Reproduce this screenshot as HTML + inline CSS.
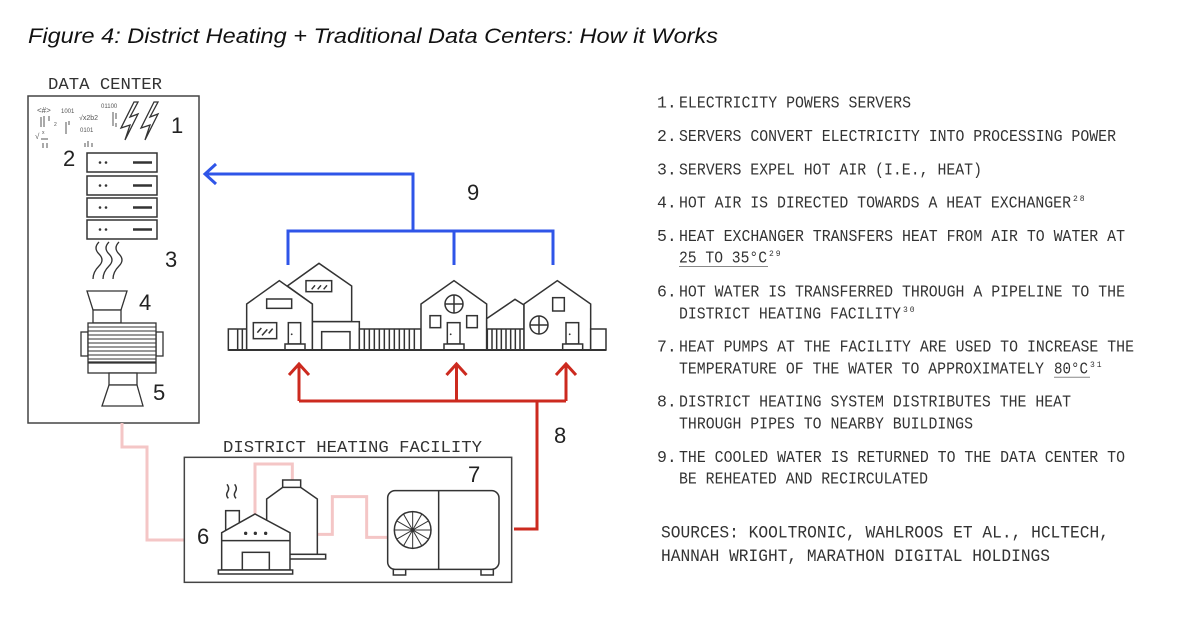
<!DOCTYPE html>
<html><head><meta charset="utf-8"><style>
html,body{margin:0;padding:0;background:#fff;}
svg{display:block;}
.m{font-family:"Liberation Mono",monospace;fill:#333;}
.n{font-family:"Liberation Sans",sans-serif;fill:#222;font-size:22px;}
</style></head><body>
<svg width="1200" height="617" viewBox="0 0 1200 617" xmlns="http://www.w3.org/2000/svg">
<rect width="1200" height="617" fill="#fff"/>
<text x="28" y="43" font-family="Liberation Sans, sans-serif" font-style="italic" font-size="21" fill="#111" textLength="690" lengthAdjust="spacingAndGlyphs">Figure 4: District Heating + Traditional Data Centers: How it Works</text>

<!-- DATA CENTER -->
<text class="m" x="48" y="89" font-size="17" textLength="114" lengthAdjust="spacingAndGlyphs">DATA CENTER</text>
<rect x="28" y="96" width="171" height="327" fill="none" stroke="#444" stroke-width="1.5"/>

<!-- symbols -->
<g fill="#555" font-family="Liberation Sans, sans-serif">
<text x="37" y="113" font-size="8">&lt;#&gt;</text>
<text x="61" y="113" font-size="6">1001</text>
<text x="101" y="108" font-size="6">01100</text>
<text x="79" y="120" font-size="7">√x2b2</text>
<text x="80" y="132" font-size="6">0101</text>
<text x="35" y="139" font-size="8">√</text>
<text x="42" y="134" font-size="5">x</text>
<text x="54" y="126" font-size="5">2</text>
</g>
<g stroke="#555" stroke-width="1" fill="none">
<path d="M41,117V127M44,116V127M49,116V121M66,122V134M69,121V125M113,112V126M116,113V119M116,123V127M43,143V148M47,143V148M85,143V147M88,141V147M92,143V147M41,139H48"/>
</g>
<!-- lightning -->
<g fill="none" stroke="#333" stroke-width="1.3" stroke-linejoin="miter">
<polygon points="134,102 121,128 130,125 125,140 138,114 130,117 138,102"/>
<polygon points="154,102 141,128 150,125 145,140 158,114 150,117 158,102"/>
</g>
<text class="n" x="171" y="133">1</text>
<text class="n" x="63" y="166">2</text>
<!-- servers -->
<g stroke="#333" stroke-width="1.5" fill="#fff">
<rect x="87" y="153" width="70" height="19"/>
<rect x="87" y="176" width="70" height="19"/>
<rect x="87" y="198" width="70" height="19"/>
<rect x="87" y="220" width="70" height="19"/>
</g>
<g fill="#333">
<circle cx="100" cy="162.5" r="1.3"/><circle cx="106" cy="162.5" r="1.3"/>
<circle cx="100" cy="185.5" r="1.3"/><circle cx="106" cy="185.5" r="1.3"/>
<circle cx="100" cy="207.5" r="1.3"/><circle cx="106" cy="207.5" r="1.3"/>
<circle cx="100" cy="229.5" r="1.3"/><circle cx="106" cy="229.5" r="1.3"/>
</g>
<g stroke="#333" stroke-width="2.6">
<path d="M133,162.5H152M133,185.5H152M133,207.5H152M133,229.5H152"/>
</g>
<!-- waves -->
<g stroke="#333" stroke-width="1.3" fill="none">
<path d="M99,242 q-6,6 0,12 q6,6 0,12 q-6,6 -6,13"/>
<path d="M109,242 q-6,6 0,12 q6,6 0,12 q-6,6 -6,13"/>
<path d="M119,242 q-6,6 0,12 q6,6 0,12 q-6,6 -6,13"/>
</g>
<text class="n" x="165" y="267">3</text>
<!-- heat exchanger -->
<g stroke="#333" stroke-width="1.3" fill="#fff">
<polygon points="87,291 127,291 121,310 93,310"/>
<rect x="93" y="310" width="28" height="13"/>
<rect x="81" y="332" width="7" height="24"/>
<rect x="156" y="332" width="7" height="24"/>
<rect x="88" y="323" width="68" height="50"/>
<rect x="109" y="373" width="28" height="12"/>
<polygon points="109,385 137,385 143,406 102,406"/>
</g>
<g stroke="#333" stroke-width="1">
<path d="M88,327H156M88,331H156M88,335H156M88,339H156M88,343H156M88,347H156M88,351H156M88,355H156M88,359H156"/>
</g>
<path d="M88,362.5H156" stroke="#333" stroke-width="2.2"/>
<text class="n" x="139" y="310">4</text>
<text class="n" x="153" y="400">5</text>

<!-- pink pipe from data center -->
<path d="M122,423V447H147V540H184" fill="none" stroke="#f4c6c6" stroke-width="3"/>

<!-- blue return lines -->
<g stroke="#2f55e8" stroke-width="3" fill="none">
<path d="M206,174H413V231"/>
<path d="M288,265V231H553V265"/>
<path d="M454,231V265"/>
<path d="M216,164L205,174L216,184"/>
</g>
<text class="n" x="467" y="200">9</text>

<!-- houses -->
<g transform="translate(200,150) scale(0.33333)" stroke="#333" stroke-width="4.5" fill="#fff">
<rect x="85" y="537" width="55" height="63"/>
<path d="M113,537V600M127,537V600" fill="none"/>
<polygon points="262,408 357,340 455,408 455,515 337,515 337,462"/>
<rect x="318" y="392" width="77" height="33"/>
<path d="M335,418l10,-12M353,418l10,-12M371,418l10,-12" fill="none"/>
<rect x="337" y="515" width="141" height="85"/>
<rect x="365" y="545" width="85" height="55"/>
<polygon points="140,600 140,462 238,392 337,462 337,600"/>
<rect x="200" y="447" width="75" height="28"/>
<rect x="160" y="518" width="70" height="48"/>
<path d="M172,548l12,-14M186,556l16,-18M206,550l12,-14" fill="none"/>
<rect x="265" y="518" width="37" height="64"/>
<rect x="255" y="582" width="60" height="18"/>
<rect x="478" y="537" width="185" height="63"/>
<path d="M493,537V600M508,537V600M523,537V600M538,537V600M553,537V600M568,537V600M583,537V600M598,537V600M613,537V600M628,537V600M643,537V600" fill="none"/>
<polygon points="663,600 663,462 762,392 860,462 860,600"/>
<circle cx="762" cy="462" r="27"/>
<path d="M735,462H789M762,435V489" fill="none"/>
<rect x="690" y="497" width="32" height="36"/>
<rect x="800" y="497" width="32" height="36"/>
<rect x="742" y="518" width="38" height="64"/>
<rect x="732" y="582" width="60" height="18"/>
<polygon points="860,506 945,448 972,465 972,600 860,600"/>
<rect x="862" y="537" width="110" height="63"/>
<path d="M876,537V600M890,537V600M904,537V600M918,537V600M932,537V600M946,537V600M960,537V600" fill="none"/>
<polygon points="972,600 972,462 1072,392 1172,462 1172,600"/>
<rect x="1058" y="443" width="35" height="40"/>
<circle cx="1017" cy="525" r="27"/>
<path d="M990,525H1044M1017,498V552" fill="none"/>
<rect x="1098" y="518" width="38" height="64"/>
<rect x="1088" y="582" width="60" height="18"/>
<rect x="1172" y="537" width="46" height="63"/>
<path d="M85,600H1218" stroke-width="6" fill="none"/>
</g>
<g fill="#333">
<circle cx="291.7" cy="334.3" r="0.9"/><circle cx="450.7" cy="334.3" r="0.9"/><circle cx="569.7" cy="334.3" r="0.9"/>
</g>

<!-- red supply lines -->
<g stroke="#cc2a1f" stroke-width="3" fill="none">
<path d="M299,401H566"/>
<path d="M299,401V364M456.5,401V364M566,401V364"/>
<path d="M289,375L299,364L309,375M446.5,375L456.5,364L466.5,375M556,375L566,364L576,375"/>
<path d="M537,401V529H514"/>
</g>
<text class="n" x="554" y="443">8</text>

<!-- facility -->
<text class="m" x="223" y="452" font-size="17" textLength="259" lengthAdjust="spacingAndGlyphs">DISTRICT HEATING FACILITY</text>
<g transform="translate(100,400) scale(0.33333)">
<rect x="253" y="172" width="982" height="375" fill="none" stroke="#444" stroke-width="4.5"/>
<path d="M465,345V192H577V240M652,403H697V290H800V412H863" fill="none" stroke="#f4c6c6" stroke-width="9"/>
<g stroke="#333" stroke-width="4.5" fill="#fff">
<polygon points="500,463 500,297 548,262 548,240 602,240 602,262 652,297 652,463"/>
<path d="M548,262H602" fill="none"/>
<rect x="568" y="463" width="109" height="14"/>
<rect x="377" y="332" width="41" height="68"/>
<polygon points="365,510 365,398 465,342 570,398 570,510"/>
<path d="M365,422H570" fill="none"/>
<rect x="427" y="457" width="81" height="53"/>
<rect x="355" y="510" width="223" height="12"/>
<path d="M385,295 q-9,-10 -2,-20 q7,-10 -2,-22 M408,295 q-9,-10 -2,-20 q7,-10 -2,-22" fill="none"/>
<rect x="880" y="505" width="37" height="20"/>
<rect x="1143" y="505" width="37" height="20"/>
<rect x="863" y="272" width="334" height="236" rx="22"/>
<path d="M1016,272V508" fill="none"/>
<circle cx="938" cy="390" r="55"/>
<path d="M883,390H993M938,335V445M890,362.5L986,417.5M890,417.5L986,362.5M910.5,342.4L965.5,437.6M910.5,437.6L965.5,342.4" fill="none" stroke-width="3"/>
</g>
<g fill="#333"><circle cx="437" cy="400" r="5"/><circle cx="466" cy="400" r="5"/><circle cx="497" cy="400" r="5"/></g>
</g>
<text class="n" x="468" y="482">7</text>
<text class="n" x="197" y="544">6</text>

<!-- right column -->
<g class="m" font-size="16.5">
<text x="657" y="107.5">1.</text>
<text x="679" y="107.5" textLength="232" lengthAdjust="spacingAndGlyphs">ELECTRICITY POWERS SERVERS</text>
<text x="657" y="140.8">2.</text>
<text x="679" y="140.8" textLength="437" lengthAdjust="spacingAndGlyphs">SERVERS CONVERT ELECTRICITY INTO PROCESSING POWER</text>
<text x="657" y="174.3">3.</text>
<text x="679" y="174.3" textLength="303" lengthAdjust="spacingAndGlyphs">SERVERS EXPEL HOT AIR (I.E., HEAT)</text>
<text x="657" y="207.5">4.</text>
<text x="679" y="207.5" textLength="392" lengthAdjust="spacingAndGlyphs">HOT AIR IS DIRECTED TOWARDS A HEAT EXCHANGER</text>
<text x="1073" y="201" font-size="8" letter-spacing="2">28</text>
<text x="657" y="240.8">5.</text>
<text x="679" y="240.8" textLength="446" lengthAdjust="spacingAndGlyphs">HEAT EXCHANGER TRANSFERS HEAT FROM AIR TO WATER AT</text>
<text x="679" y="262.5" textLength="88" lengthAdjust="spacingAndGlyphs">25 TO 35°C</text>
<text x="769" y="256" font-size="8" letter-spacing="2">29</text>
<text x="657" y="296.6">6.</text>
<text x="679" y="296.6" textLength="446" lengthAdjust="spacingAndGlyphs">HOT WATER IS TRANSFERRED THROUGH A PIPELINE TO THE</text>
<text x="679" y="318.3" textLength="222" lengthAdjust="spacingAndGlyphs">DISTRICT HEATING FACILITY</text>
<text x="903" y="312" font-size="8" letter-spacing="2">30</text>
<text x="657" y="351.6">7.</text>
<text x="679" y="351.6" textLength="455" lengthAdjust="spacingAndGlyphs">HEAT PUMPS AT THE FACILITY ARE USED TO INCREASE THE</text>
<text x="679" y="373.3" textLength="365" lengthAdjust="spacingAndGlyphs">TEMPERATURE OF THE WATER TO APPROXIMATELY</text>
<text x="1054" y="373.3" textLength="34" lengthAdjust="spacingAndGlyphs">80°C</text>
<text x="1090" y="367" font-size="8" letter-spacing="2">31</text>
<text x="657" y="406.6">8.</text>
<text x="679" y="406.6" textLength="392" lengthAdjust="spacingAndGlyphs">DISTRICT HEATING SYSTEM DISTRIBUTES THE HEAT</text>
<text x="679" y="428.5" textLength="294" lengthAdjust="spacingAndGlyphs">THROUGH PIPES TO NEARBY BUILDINGS</text>
<text x="657" y="462">9.</text>
<text x="679" y="462" textLength="446" lengthAdjust="spacingAndGlyphs">THE COOLED WATER IS RETURNED TO THE DATA CENTER TO</text>
<text x="679" y="483.6" textLength="249" lengthAdjust="spacingAndGlyphs">BE REHEATED AND RECIRCULATED</text>
</g>
<g stroke="#888" stroke-width="1">
<path d="M679,266.5H768M1054,377.3H1090"/>
</g>
<g class="m" font-size="17.5">
<text x="661" y="537.6" textLength="448" lengthAdjust="spacingAndGlyphs">SOURCES: KOOLTRONIC, WAHLROOS ET AL., HCLTECH,</text>
<text x="661" y="560.8" textLength="389" lengthAdjust="spacingAndGlyphs">HANNAH WRIGHT, MARATHON DIGITAL HOLDINGS</text>
</g>
</svg>
</body></html>
